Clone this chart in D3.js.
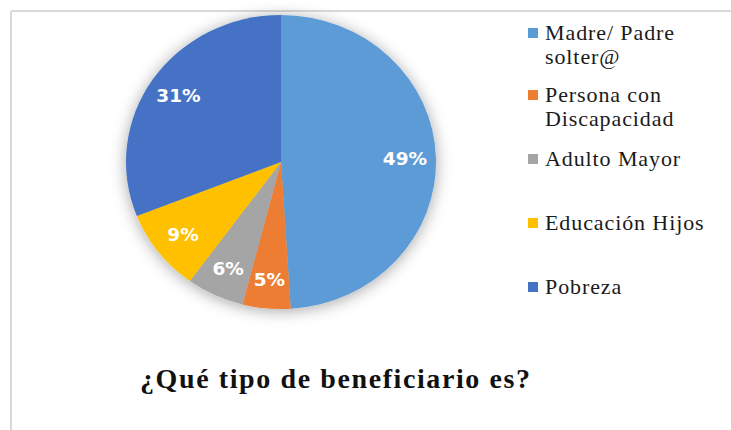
<!DOCTYPE html>
<html>
<head>
<meta charset="utf-8">
<script src="https://cdn.jsdelivr.net/npm/d3@7"></script>
<style>
  html, body { margin: 0; padding: 0; background: #fff; }
  svg { display: block; }
</style>
</head>
<body>
<svg id="chart" width="731" height="430"></svg>
<script>
const categories = ["Madre/ Padre solter@", "Persona con Discapacidad", "Adulto Mayor", "Educación Hijos", "Pobreza"];
const legendLines = [["Madre/ Padre", "solter@"], ["Persona con", "Discapacidad"], ["Adulto Mayor"], ["Educación Hijos"], ["Pobreza"]];
const values = [49, 5, 6, 9, 31];
const colors = ["#5B9BD5", "#ED7D31", "#A5A5A5", "#FFC000", "#4472C4"];
const title = "¿Qué tipo de beneficiario es?";

const svg = d3.select("#chart");
const W = 731, H = 430;
const serif = "'Liberation Serif', 'Times New Roman', serif";

// frame
svg.append("line").attr("x1", 11).attr("y1", 11).attr("x2", W).attr("y2", 11)
  .attr("stroke", "#d9d9d9").attr("stroke-width", 2);
svg.append("line").attr("x1", 11).attr("y1", 11).attr("x2", 11).attr("y2", H)
  .attr("stroke", "#d9d9d9").attr("stroke-width", 2);

// shadow filter
const defs = svg.append("defs");
const f = defs.append("filter").attr("id", "sh").attr("x", "-30%").attr("y", "-30%").attr("width", "160%").attr("height", "160%");
f.append("feDropShadow").attr("dx", 0).attr("dy", 2).attr("stdDeviation", 8)
  .attr("flood-color", "#000").attr("flood-opacity", 0.35);

const cx = 281, cy = 162, r = 155, sy = 147 / 155;
const pie = d3.pie().sort(null).value(d => d)(values);
const arc = d3.arc().innerRadius(0).outerRadius(r);

const g = svg.append("g").attr("transform", `translate(${cx},${cy}) scale(1,${sy})`);
const slices = g.append("g").attr("filter", "url(#sh)");
slices.selectAll("path").data(pie).join("path")
  .attr("d", arc)
  .attr("fill", (d, i) => colors[i]);

const labelArc = d3.arc().innerRadius(r * 0.8).outerRadius(r * 0.8);
svg.append("g").attr("transform", `translate(${cx},${cy})`)
  .selectAll("text").data(pie).join("text")
  .attr("x", d => labelArc.centroid(d)[0])
  .attr("y", d => labelArc.centroid(d)[1] * sy)
  .attr("text-anchor", "middle")
  .attr("dominant-baseline", "central")
  .attr("fill", "#fff")
  .attr("font-family", "'DejaVu Sans', Verdana, sans-serif")
  .attr("font-weight", "bold")
  .attr("font-size", 18.5)
  .text(d => d.data + "%");

// legend
const legendY = [33, 95, 159, 223, 287];
const lg = svg.append("g");
legendLines.forEach((lines, i) => {
  lg.append("rect").attr("x", 528).attr("y", legendY[i] - 5).attr("width", 10).attr("height", 10)
    .attr("fill", colors[i]);
  lines.forEach((t, j) => {
    lg.append("text")
      .attr("x", 545).attr("y", legendY[i] + 7 + j * 24)
      .style("font-family", serif)
      .attr("font-size", 22)
      .attr("letter-spacing", 0.9)
      .attr("fill", "#1a1a1a")
      .text(t);
  });
});

// title
svg.append("text")
  .attr("x", 140).attr("y", 388)
  .style("font-family", serif)
  .attr("font-weight", "bold")
  .attr("font-size", 28)
  .attr("letter-spacing", 1.6)
  .attr("fill", "#111")
  .text(title);
</script>
</body>
</html>
